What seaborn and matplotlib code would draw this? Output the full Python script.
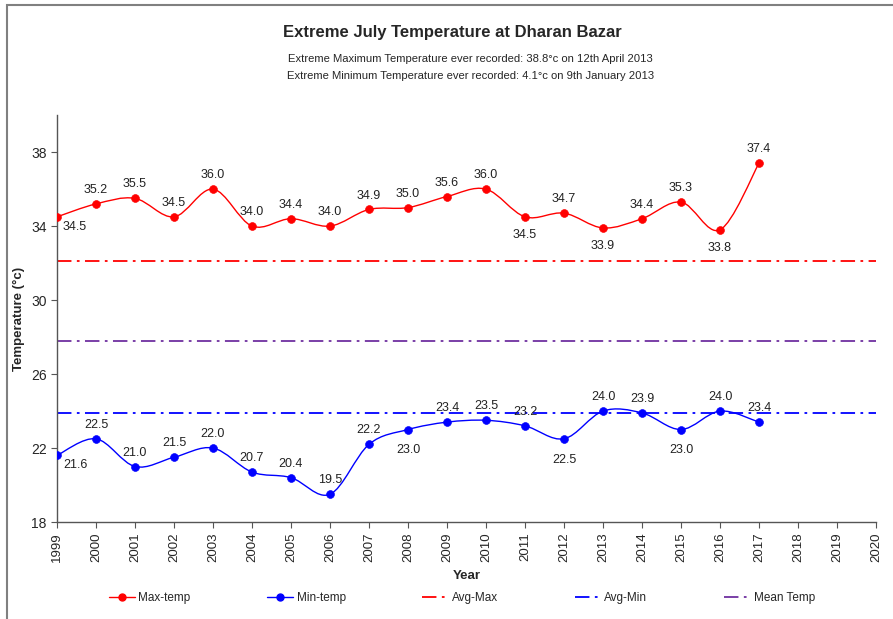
import numpy as np
import seaborn as sns
from matplotlib import pyplot as plt
from matplotlib.path import Path
from matplotlib.patches import PathPatch, Rectangle
from matplotlib.lines import Line2D

years = [1999, 2000, 2001, 2002, 2003, 2004, 2005, 2006, 2007, 2008,
         2009, 2010, 2011, 2012, 2013, 2014, 2015, 2016, 2017]
max_temp = [34.5, 35.2, 35.5, 34.5, 36.0, 34.0, 34.4, 34.0, 34.9, 35.0,
            35.6, 36.0, 34.5, 34.7, 33.9, 34.4, 35.3, 33.8, 37.4]
min_temp = [21.6, 22.5, 21.0, 21.5, 22.0, 20.7, 20.4, 19.5, 22.2, 23.0,
            23.4, 23.5, 23.2, 22.5, 24.0, 23.9, 23.0, 24.0, 23.4]
avg_max = 32.1
avg_min = 23.9
mean_temp = 27.8

title = 'Extreme July Temperature at Dharan Bazar'
subtitle_max = 'Extreme Maximum Temperature ever recorded: 38.8°c on 12th April 2013'
subtitle_min = 'Extreme Minimum Temperature ever recorded: 4.1°c on 9th January 2013'

# label side for each point: 'a' above, 'b' below, 'r' below-right
max_pos = ['r', 'a', 'a', 'a', 'a', 'a', 'a', 'a', 'a', 'a',
           'a', 'a', 'b', 'a', 'b', 'a', 'a', 'b', 'a']
min_pos = ['r', 'a', 'a', 'a', 'a', 'a', 'a', 'a', 'a', 'b',
           'a', 'a', 'a', 'b', 'a', 'a', 'b', 'a', 'a']

RED = '#FF0000'
BLUE = '#0000FF'
PURPLE = '#7030A0'
DASHDOT = (0, (8, 3, 1.5, 3))

sns.set_style('white')
plt.rcParams['font.family'] = ['Liberation Sans', 'DejaVu Sans']


def smooth_path(xs, ys):
    # excel-like smoothed line as a bezier path through the data points
    pts = np.column_stack([xs, ys]).astype(float)
    verts = [pts[0]]
    codes = [Path.MOVETO]
    n = len(pts)
    for i in range(n - 1):
        p0 = pts[i - 1] if i > 0 else pts[i]
        p1 = pts[i]
        p2 = pts[i + 1]
        p3 = pts[i + 2] if i + 2 < n else pts[i + 1]
        c1 = p1 + (p2 - p0) / 6.0
        c2 = p2 - (p3 - p1) / 6.0
        verts.extend([c1, c2, p2])
        codes.extend([Path.CURVE4] * 3)
    return Path(verts, codes)


def add_labels(ax, xs, ys, positions, below_off):
    offsets = {'a': (0, 10), 'b': (0, below_off), 'r': (13, -7)}
    for x, y, p in zip(xs, ys, positions):
        dx, dy = offsets[p]
        ax.annotate(f'{y:.1f}', (x, y), xytext=(dx, dy), textcoords='offset points',
                    ha='center', va='center', fontsize=9, color='#222222')


fig = plt.figure(figsize=(8.93, 6.19), dpi=100)
ax = fig.add_axes([0.0638, 0.1567, 0.9172, 0.6573])

ax.axhline(avg_max, color=RED, lw=1.3, linestyle=DASHDOT, zorder=1)
ax.axhline(mean_temp, color=PURPLE, lw=1.3, linestyle=DASHDOT, zorder=1)
ax.axhline(avg_min, color=BLUE, lw=1.3, linestyle=DASHDOT, zorder=1)

ax.add_patch(PathPatch(smooth_path(years, max_temp), facecolor='none', edgecolor=RED, lw=1, zorder=2))
ax.add_patch(PathPatch(smooth_path(years, min_temp), facecolor='none', edgecolor=BLUE, lw=1, zorder=2))
sns.scatterplot(x=years, y=max_temp, color=RED, s=32, edgecolor=RED, ax=ax, zorder=3)
sns.scatterplot(x=years, y=min_temp, color=BLUE, s=32, edgecolor=BLUE, ax=ax, zorder=3)

add_labels(ax, years, max_temp, max_pos, -13)
add_labels(ax, years, min_temp, min_pos, -15)

ax.set_xlim(1999, 2020)
ax.set_ylim(18, 40)
ax.set_xticks(range(1999, 2021))
ax.set_xticklabels([str(y) for y in range(1999, 2021)], rotation=90, fontsize=9.5)
ax.set_yticks([18, 22, 26, 30, 34, 38])
ax.tick_params(axis='y', labelsize=10)
ax.tick_params(axis='both', direction='out', length=4, width=0.8, color='#555555', left=True, bottom=True)
sns.despine(ax=ax)
for side in ['left', 'bottom']:
    ax.spines[side].set_color('#555555')
    ax.spines[side].set_linewidth(1)

ax.set_xlabel('Year', fontsize=9.5, fontweight='bold', labelpad=6)
ax.set_ylabel('Temperature (°c)', fontsize=9.5, fontweight='bold', labelpad=4)

fig.text(0.507, 0.948, title, ha='center', va='center', fontsize=12, fontweight='bold')
fig.text(0.527, 0.905, subtitle_max, ha='center', va='center', fontsize=8.1)
fig.text(0.527, 0.877, subtitle_min, ha='center', va='center', fontsize=8.1)

handles = [
    Line2D([], [], color=RED, lw=1, marker='o', markersize=5),
    Line2D([], [], color=BLUE, lw=1, marker='o', markersize=5),
    Line2D([], [], color=RED, lw=1.3, linestyle=DASHDOT),
    Line2D([], [], color=BLUE, lw=1.3, linestyle=DASHDOT),
    Line2D([], [], color=PURPLE, lw=1.3, linestyle=DASHDOT),
]
labels = ['Max-temp', 'Min-temp', 'Avg-Max', 'Avg-Min', 'Mean Temp']
fig.legend(handles, labels, loc='center', bbox_to_anchor=(0.517, 0.034), ncol=5,
           frameon=False, fontsize=8.5, columnspacing=6.5, handlelength=2.2, handletextpad=0.3)

fig.add_artist(Rectangle((7 / 893, -0.05), 1.1, 1.05 - 5 / 619, transform=fig.transFigure,
                         fill=False, edgecolor='#808080', lw=1.5))

fig.savefig('out.png', dpi=100)
